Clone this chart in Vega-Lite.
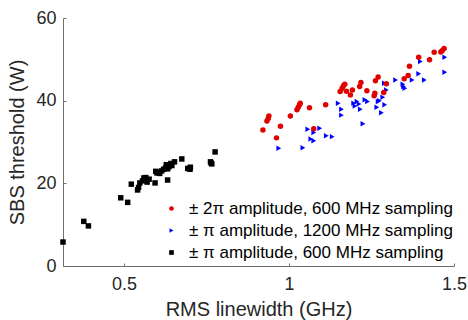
{
  "$schema": "https://vega.github.io/schema/vega-lite/v6.json",
  "width": 391,
  "height": 248,
  "autosize": {"type": "none"},
  "padding": {"left": 63, "top": 18, "right": 14, "bottom": 54},
  "background": "white",
  "config": {
    "font": "Liberation Sans",
    "view": {"stroke": null},
    "axis": {
      "grid": false,
      "domainColor": "#6e6e6e",
      "tickColor": "#6e6e6e",
      "tickSize": -3,
      "labelColor": "#262626",
      "titleColor": "#262626",
      "labelFontSize": 18,
      "titleFontSize": 20,
      "titleFontWeight": "normal",
      "labelFont": "Liberation Sans",
      "titleFont": "Liberation Sans"
    },
    "legend": {
      "labelFontSize": 17,
      "labelColor": "#000000",
      "labelFont": "Liberation Sans",
      "symbolSize": 22,
      "labelLimit": 400,
      "labelOffset": 9,
      "rowPadding": 4
    }
  },
  "data": {
    "values": [
      {"x": 0.315, "y": 5.8, "s": "k"},
      {"x": 0.378, "y": 10.8, "s": "k"},
      {"x": 0.392, "y": 9.7, "s": "k"},
      {"x": 0.490, "y": 16.5, "s": "k"},
      {"x": 0.511, "y": 15.4, "s": "k"},
      {"x": 0.522, "y": 19.8, "s": "k"},
      {"x": 0.541, "y": 18.4, "s": "k"},
      {"x": 0.544, "y": 19.0, "s": "k"},
      {"x": 0.548, "y": 20.1, "s": "k"},
      {"x": 0.556, "y": 20.6, "s": "k"},
      {"x": 0.560, "y": 21.3, "s": "k"},
      {"x": 0.566, "y": 21.4, "s": "k"},
      {"x": 0.570, "y": 20.3, "s": "k"},
      {"x": 0.576, "y": 21.0, "s": "k"},
      {"x": 0.594, "y": 20.1, "s": "k"},
      {"x": 0.596, "y": 22.9, "s": "k"},
      {"x": 0.600, "y": 22.5, "s": "k"},
      {"x": 0.604, "y": 22.7, "s": "k"},
      {"x": 0.608, "y": 22.4, "s": "k"},
      {"x": 0.614, "y": 23.0, "s": "k"},
      {"x": 0.620, "y": 23.4, "s": "k"},
      {"x": 0.626, "y": 23.7, "s": "k"},
      {"x": 0.628, "y": 24.5, "s": "k"},
      {"x": 0.632, "y": 20.8, "s": "k"},
      {"x": 0.632, "y": 23.5, "s": "k"},
      {"x": 0.636, "y": 24.0, "s": "k"},
      {"x": 0.642, "y": 24.8, "s": "k"},
      {"x": 0.645, "y": 24.3, "s": "k"},
      {"x": 0.653, "y": 25.2, "s": "k"},
      {"x": 0.675, "y": 25.9, "s": "k"},
      {"x": 0.693, "y": 23.6, "s": "k"},
      {"x": 0.700, "y": 23.4, "s": "k"},
      {"x": 0.701, "y": 23.9, "s": "k"},
      {"x": 0.762, "y": 25.2, "s": "k"},
      {"x": 0.764, "y": 24.9, "s": "k"},
      {"x": 0.766, "y": 24.7, "s": "k"},
      {"x": 0.776, "y": 27.6, "s": "k"},
      {"x": 0.969, "y": 28.5, "s": "b"},
      {"x": 1.042, "y": 28.6, "s": "b"},
      {"x": 1.057, "y": 33.1, "s": "b"},
      {"x": 1.075, "y": 32.3, "s": "b"},
      {"x": 1.093, "y": 33.3, "s": "b"},
      {"x": 1.066, "y": 30.7, "s": "b"},
      {"x": 1.075, "y": 30.3, "s": "b"},
      {"x": 1.113, "y": 31.5, "s": "b"},
      {"x": 1.131, "y": 31.3, "s": "b"},
      {"x": 1.149, "y": 39.4, "s": "b"},
      {"x": 1.159, "y": 37.9, "s": "b"},
      {"x": 1.159, "y": 36.5, "s": "b"},
      {"x": 1.196, "y": 39.4, "s": "b"},
      {"x": 1.200, "y": 38.7, "s": "b"},
      {"x": 1.206, "y": 39.8, "s": "b"},
      {"x": 1.212, "y": 39.2, "s": "b"},
      {"x": 1.216, "y": 37.9, "s": "b"},
      {"x": 1.224, "y": 34.4, "s": "b"},
      {"x": 1.230, "y": 40.2, "s": "b"},
      {"x": 1.238, "y": 39.8, "s": "b"},
      {"x": 1.266, "y": 38.4, "s": "b"},
      {"x": 1.270, "y": 39.8, "s": "b"},
      {"x": 1.274, "y": 40.0, "s": "b"},
      {"x": 1.280, "y": 37.1, "s": "b"},
      {"x": 1.284, "y": 40.8, "s": "b"},
      {"x": 1.289, "y": 44.2, "s": "b"},
      {"x": 1.290, "y": 39.0, "s": "b"},
      {"x": 1.295, "y": 42.6, "s": "b"},
      {"x": 1.323, "y": 45.0, "s": "b"},
      {"x": 1.345, "y": 44.0, "s": "b"},
      {"x": 1.347, "y": 43.4, "s": "b"},
      {"x": 1.351, "y": 43.0, "s": "b"},
      {"x": 1.373, "y": 45.0, "s": "b"},
      {"x": 1.393, "y": 46.5, "s": "b"},
      {"x": 1.398, "y": 49.5, "s": "b"},
      {"x": 1.410, "y": 45.0, "s": "b"},
      {"x": 1.472, "y": 50.5, "s": "b"},
      {"x": 1.472, "y": 46.9, "s": "b"},
      {"x": 0.921, "y": 32.9, "s": "r"},
      {"x": 0.933, "y": 35.1, "s": "r"},
      {"x": 0.937, "y": 35.7, "s": "r"},
      {"x": 0.939, "y": 36.3, "s": "r"},
      {"x": 0.962, "y": 31.0, "s": "r"},
      {"x": 0.974, "y": 33.8, "s": "r"},
      {"x": 1.004, "y": 36.3, "s": "r"},
      {"x": 1.024, "y": 37.8, "s": "r"},
      {"x": 1.028, "y": 38.4, "s": "r"},
      {"x": 1.032, "y": 39.0, "s": "r"},
      {"x": 1.034, "y": 39.4, "s": "r"},
      {"x": 1.062, "y": 38.3, "s": "r"},
      {"x": 1.075, "y": 33.2, "s": "r"},
      {"x": 1.111, "y": 39.0, "s": "r"},
      {"x": 1.155, "y": 42.2, "s": "r"},
      {"x": 1.161, "y": 43.0, "s": "r"},
      {"x": 1.165, "y": 43.6, "s": "r"},
      {"x": 1.169, "y": 44.0, "s": "r"},
      {"x": 1.174, "y": 42.3, "s": "r"},
      {"x": 1.186, "y": 41.4, "s": "r"},
      {"x": 1.192, "y": 42.6, "s": "r"},
      {"x": 1.214, "y": 43.4, "s": "r"},
      {"x": 1.218, "y": 44.4, "s": "r"},
      {"x": 1.236, "y": 42.4, "s": "r"},
      {"x": 1.258, "y": 41.2, "s": "r"},
      {"x": 1.260, "y": 41.8, "s": "r"},
      {"x": 1.262, "y": 44.8, "s": "r"},
      {"x": 1.270, "y": 45.7, "s": "r"},
      {"x": 1.287, "y": 42.0, "s": "r"},
      {"x": 1.295, "y": 44.1, "s": "r"},
      {"x": 1.349, "y": 45.3, "s": "r"},
      {"x": 1.361, "y": 46.1, "s": "r"},
      {"x": 1.365, "y": 48.3, "s": "r"},
      {"x": 1.393, "y": 50.5, "s": "r"},
      {"x": 1.426, "y": 49.9, "s": "r"},
      {"x": 1.440, "y": 51.7, "s": "r"},
      {"x": 1.460, "y": 51.8, "s": "r"},
      {"x": 1.464, "y": 52.1, "s": "r"},
      {"x": 1.470, "y": 52.6, "s": "r"}
    ]
  },
  "mark": {"type": "point", "filled": true, "opacity": 1, "size": 30},
  "encoding": {
    "x": {
      "field": "x",
      "type": "quantitative",
      "scale": {"domain": [0.315, 1.5], "nice": false, "zero": false},
      "axis": {"values": [0.5, 1, 1.5], "format": "~g", "title": "RMS linewidth (GHz)", "labelPadding": 12, "titlePadding": 6, "labelFlush": false}
    },
    "y": {
      "field": "y",
      "type": "quantitative",
      "scale": {"domain": [0, 60], "nice": false},
      "axis": {"values": [0, 20, 40, 60], "title": "SBS threshold (W)", "labelPadding": 10, "titlePadding": 8}
    },
    "color": {
      "field": "s",
      "type": "nominal",
      "scale": {"domain": ["r", "b", "k"], "range": ["#e00000", "#0000ff", "#000000"]},
      "legend": {
        "title": null,
        "orient": "none",
        "legendX": 100,
        "legendY": 182,
        "labelExpr": "datum.value == 'r' ? '± 2π amplitude, 600 MHz sampling' : datum.value == 'b' ? '± π amplitude, 1200 MHz sampling' : '± π amplitude, 600 MHz sampling'"
      }
    },
    "shape": {
      "field": "s",
      "type": "nominal",
      "scale": {"domain": ["r", "b", "k"], "range": ["circle", "triangle-right", "square"]},
      "legend": null
    }
  }
}
